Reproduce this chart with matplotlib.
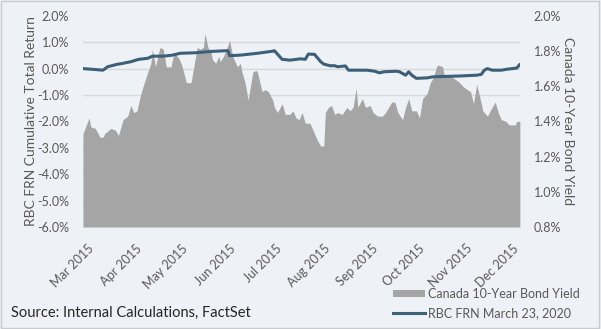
import matplotlib.pyplot as plt
import matplotlib.dates as mdates
from matplotlib.patches import Rectangle, Patch
from matplotlib.lines import Line2D
from matplotlib.ticker import FuncFormatter
import pandas as pd

plt.rcParams['font.family'] = ['Lato', 'DejaVu Sans']

# Canada 10-year yield (%), right axis
yield_dates = [
    "2015-02-26", "2015-03-02", "2015-03-03", "2015-03-06", "2015-03-09", "2015-03-11",
    "2015-03-12", "2015-03-16", "2015-03-19", "2015-03-21", "2015-03-24", "2015-03-27",
    "2015-03-29", "2015-03-31", "2015-04-02", "2015-04-04", "2015-04-06", "2015-04-09",
    "2015-04-11", "2015-04-12", "2015-04-14", "2015-04-16", "2015-04-17", "2015-04-19",
    "2015-04-21", "2015-04-24", "2015-04-26", "2015-04-29", "2015-05-01", "2015-05-04",
    "2015-05-07", "2015-05-10", "2015-05-11", "2015-05-13", "2015-05-15", "2015-05-16",
    "2015-05-18", "2015-05-20", "2015-05-21", "2015-05-23", "2015-05-25", "2015-05-26",
    "2015-05-28", "2015-05-30", "2015-06-01", "2015-06-03", "2015-06-06", "2015-06-08",
    "2015-06-09", "2015-06-11", "2015-06-13", "2015-06-16", "2015-06-18", "2015-06-19",
    "2015-06-22", "2015-06-24", "2015-06-26", "2015-06-29", "2015-06-30", "2015-07-02",
    "2015-07-05", "2015-07-07", "2015-07-10", "2015-07-12", "2015-07-14", "2015-07-16",
    "2015-07-18", "2015-07-20", "2015-07-23", "2015-07-25", "2015-07-28", "2015-07-30",
    "2015-08-01", "2015-08-02", "2015-08-04", "2015-08-06", "2015-08-08", "2015-08-10",
    "2015-08-13", "2015-08-16", "2015-08-18", "2015-08-20", "2015-08-22", "2015-08-23",
    "2015-08-26", "2015-08-28", "2015-08-31", "2015-09-02", "2015-09-05", "2015-09-08",
    "2015-09-10", "2015-09-14", "2015-09-16", "2015-09-18", "2015-09-21", "2015-09-23",
    "2015-09-25", "2015-09-27", "2015-09-30", "2015-10-02", "2015-10-04", "2015-10-07",
    "2015-10-09", "2015-10-11", "2015-10-13", "2015-10-14", "2015-10-17", "2015-10-18",
    "2015-10-22", "2015-10-25", "2015-10-28", "2015-10-30", "2015-11-02", "2015-11-04",
    "2015-11-06", "2015-11-08", "2015-11-10", "2015-11-12", "2015-11-15", "2015-11-18",
    "2015-11-20", "2015-11-22", "2015-11-24", "2015-11-27", "2015-11-29", "2015-12-03",
    "2015-12-04", "2015-12-06",
]
yield_pct = [
    1.33, 1.42, 1.37, 1.36, 1.31, 1.31,
    1.33, 1.36, 1.35, 1.32, 1.41, 1.43,
    1.49, 1.45, 1.46, 1.54, 1.60, 1.68,
    1.73, 1.81, 1.71, 1.79, 1.82, 1.81,
    1.71, 1.71, 1.79, 1.76, 1.72, 1.62,
    1.62, 1.77, 1.82, 1.81, 1.82, 1.90,
    1.82, 1.79, 1.75, 1.73, 1.77, 1.74,
    1.77, 1.81, 1.86, 1.77, 1.71, 1.73,
    1.68, 1.62, 1.52, 1.68, 1.69, 1.68,
    1.57, 1.58, 1.57, 1.52, 1.48, 1.45,
    1.50, 1.44, 1.44, 1.46, 1.42, 1.41,
    1.45, 1.39, 1.39, 1.35, 1.29, 1.26,
    1.26, 1.45, 1.48, 1.49, 1.44, 1.45,
    1.44, 1.48, 1.46, 1.48, 1.59, 1.48,
    1.53, 1.48, 1.49, 1.45, 1.43, 1.43,
    1.45, 1.51, 1.51, 1.45, 1.41, 1.48,
    1.53, 1.46, 1.46, 1.42, 1.53, 1.56,
    1.62, 1.65, 1.71, 1.72, 1.71, 1.66,
    1.66, 1.64, 1.62, 1.60, 1.58, 1.57,
    1.50, 1.61, 1.54, 1.46, 1.43, 1.48,
    1.51, 1.45, 1.41, 1.40, 1.38, 1.38,
    1.40, 1.40,
]

# RBC FRN cumulative total return (%), left axis
frn_dates = [
    "2015-02-26", "2015-03-05", "2015-03-11", "2015-03-14", "2015-03-20", "2015-03-24",
    "2015-03-29", "2015-04-03", "2015-04-09", "2015-04-12", "2015-04-19", "2015-04-25",
    "2015-04-30", "2015-05-10", "2015-05-20", "2015-05-31", "2015-06-01", "2015-06-08",
    "2015-06-19", "2015-06-29", "2015-06-30", "2015-07-05", "2015-07-10", "2015-07-17",
    "2015-07-20", "2015-07-22", "2015-07-26", "2015-07-30", "2015-08-01", "2015-08-05",
    "2015-08-08", "2015-08-10", "2015-08-15", "2015-08-17", "2015-08-22", "2015-08-29",
    "2015-09-03", "2015-09-06", "2015-09-09", "2015-09-17", "2015-09-19", "2015-09-23",
    "2015-09-25", "2015-09-27", "2015-09-30", "2015-10-07", "2015-10-11", "2015-10-28",
    "2015-11-08", "2015-11-11", "2015-11-13", "2015-11-15", "2015-11-18", "2015-11-24",
    "2015-11-27", "2015-12-01", "2015-12-04", "2015-12-06",
]
frn_pct = [
    0.00, -0.03, -0.06, 0.07, 0.16, 0.20,
    0.26, 0.35, 0.39, 0.47, 0.47, 0.51,
    0.58, 0.60, 0.65, 0.68, 0.49, 0.51,
    0.58, 0.66, 0.68, 0.35, 0.32, 0.37,
    0.35, 0.55, 0.54, 0.26, 0.17, 0.11,
    0.11, 0.07, 0.10, -0.06, -0.06, -0.06,
    -0.10, -0.16, -0.12, -0.10, -0.12, -0.25,
    -0.12, -0.25, -0.37, -0.35, -0.31, -0.28,
    -0.25, -0.22, -0.06, 0.00, -0.06, -0.06,
    -0.03, 0.00, 0.02, 0.16,
]

left_ticks = [-6, -5, -4, -3, -2, -1, 0, 1, 2]
right_ticks = [0.8, 1.0, 1.2, 1.4, 1.6, 1.8, 2.0]

bg = '#eef1f5'
grey_txt = '#595959'
area_col = '#a5a5a5'
line_col = '#3d6079'

yd = pd.to_datetime(yield_dates)
fd = pd.to_datetime(frn_dates)

fig = plt.figure(figsize=(6.01, 3.29), dpi=100, facecolor=bg)
fig.patches.append(Rectangle((0.002, 0.004), 0.994, 0.993, transform=fig.transFigure,
                             fill=False, edgecolor='#c8ccd2', lw=1.0))

ax2 = fig.add_axes([0.138, 0.310, 0.727, 0.642])   # area (yield, right side)
ax = ax2.twinx()                                    # line (FRN, left side)

# area and its axis on the right
ax2.fill_between(yd, yield_pct, 0.8, color=area_col, lw=0, zorder=2)
ax2.set_ylim(0.8, 2.0)
ax2.set_xlim(yd[0], yd[-1])
ax2.yaxis.tick_right()
ax2.yaxis.set_label_position('right')
ax2.set_yticks(right_ticks)
ax2.yaxis.set_major_formatter(FuncFormatter(lambda v, p: f'{v:.1f}%'))
# gridlines follow the left scale, drawn under the area
ax2.set_yticks([0.8 + (v + 6) * 0.15 for v in left_ticks], minor=True)
ax2.grid(which='minor', axis='y', color='#d9d9d9', lw=1.0, zorder=0)
ax2.grid(which='major', visible=False)
ax2.set_axisbelow(True)
ax2.set_facecolor(bg)
ax2.set_ylabel('Canada 10-Year Bond Yield', rotation=270, labelpad=9,
               color=grey_txt, fontsize=10)

# line and its axis on the left
ax.plot(fd, frn_pct, color=line_col, lw=2.2, solid_capstyle='round', zorder=3)
ax.set_ylim(-6, 2)
ax.yaxis.tick_left()
ax.yaxis.set_label_position('left')
ax.set_yticks(left_ticks)
ax.yaxis.set_major_formatter(FuncFormatter(lambda v, p: f'{v:.1f}%'))
ax.set_ylabel('RBC FRN Cumulative Total Return', color=grey_txt, fontsize=10,
              labelpad=0)

for a in (ax, ax2):
    for s in a.spines.values():
        s.set_visible(False)
    a.tick_params(axis='both', which='both', length=0, colors=grey_txt,
                  labelsize=9, pad=10)

ax2.xaxis.set_major_locator(mdates.MonthLocator())
ax2.xaxis.set_major_formatter(mdates.DateFormatter('%b %Y'))
ax2.tick_params(axis='x', pad=11)
for lbl in ax2.get_xticklabels():
    lbl.set_rotation(45)
    lbl.set_ha('right')
    lbl.set_va('top')
    lbl.set_rotation_mode('anchor')

fig.text(0.018, 0.048, 'Source: Internal Calculations, FactSet', fontsize=10.5,
         color='#262626', va='center')

handles = [Patch(facecolor=area_col, edgecolor='none'),
           Line2D([], [], color=line_col, lw=2.2)]
fig.legend(handles, ['Canada 10-Year Bond Yield', 'RBC FRN March 23, 2020'],
           loc='lower left', bbox_to_anchor=(0.635, -0.005), frameon=False,
           fontsize=9, labelcolor=grey_txt, handlelength=2.6, handleheight=0.5,
           handletextpad=0.2, labelspacing=0.6)

fig.savefig('out.png', dpi=100, facecolor=bg)
